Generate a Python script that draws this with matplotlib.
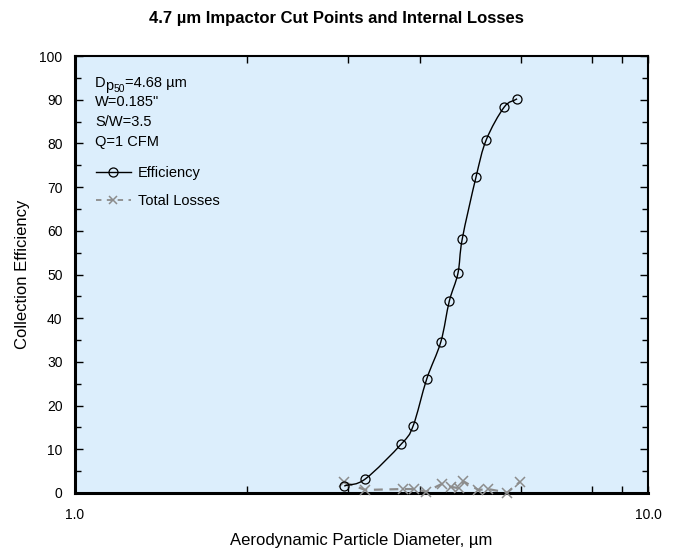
import numpy as np
import matplotlib
matplotlib.use("Agg")
import matplotlib.pyplot as plt
from matplotlib.path import Path
from matplotlib.patches import PathPatch
from matplotlib.lines import Line2D
from matplotlib.transforms import offset_copy

plt.rcParams['font.family'] = ['Liberation Sans', 'DejaVu Sans']

# collection efficiency (%) vs aerodynamic diameter (um)
eff_diam = [2.95, 3.21, 3.71, 3.89, 4.11, 4.35, 4.50, 4.66, 4.74, 5.01, 5.22, 5.61, 5.91]
eff_vals = [1.6, 3.2, 11.2, 15.3, 26.1, 34.6, 43.9, 50.3, 58.1, 72.3, 80.8, 88.3, 90.2]

# total internal losses (%)
loss_diam = [2.95, 3.21, 3.73, 3.90, 4.10, 4.37, 4.53, 4.68, 4.76, 5.06, 5.26, 5.68, 5.97]
loss_vals = [2.5, 0.7, 0.9, 0.9, 0.3, 2.1, 1.4, 1.1, 2.7, 0.7, 0.9, 0.1, 2.5]

info_lines = ['W=0.185"', 'S/W=3.5', 'Q=1 CFM']
dp50_text = '=4.68 µm'

x_minor = [2, 3, 4, 6, 8, 9]
x_major = [1, 10]
x_major_labels = ['1.0', '10.0']


def smooth_path(xs, ys, sx=573.0, sy=4.37):
    """Catmull-Rom curve through the points, as cubic bezier segments (log-x)."""
    u = np.log10(np.asarray(xs)) * sx
    v = np.asarray(ys) * sy
    p = np.column_stack([u, v])
    n = len(p)
    tang = np.zeros_like(p)
    for i in range(n):
        if i == 0:
            tang[i] = p[1] - p[0]
        elif i == n - 1:
            tang[i] = p[-1] - p[-2]
        else:
            tang[i] = (p[i + 1] - p[i - 1]) / 2.0
    verts = [p[0]]
    codes = [Path.MOVETO]
    for i in range(n - 1):
        verts += [p[i] + tang[i] / 3.0, p[i + 1] - tang[i + 1] / 3.0, p[i + 1]]
        codes += [Path.CURVE4] * 3
    verts = np.array(verts)
    verts[:, 0] = 10 ** (verts[:, 0] / sx)
    verts[:, 1] = verts[:, 1] / sy
    return Path(verts, codes)


fig = plt.figure(figsize=(6.73, 5.54), dpi=100)
ax = fig.add_axes([75 / 673, 61 / 554, 573 / 673, 437 / 554])
ax.set_facecolor('#dceefc')
ax.set_xscale('log')
ax.set_xlim(1, 10)
ax.set_ylim(0, 100)

gray = '#8c8c8c'

# losses
ax.plot(loss_diam, loss_vals, linestyle=(0, (4, 3)), color=gray, lw=1.6,
        marker='x', ms=6.5, mew=1.1, mec=gray, zorder=3, clip_on=False)

# efficiency curve
patch = PathPatch(smooth_path(eff_diam, eff_vals), facecolor='none',
                  edgecolor='black', lw=1.0, transform=ax.transData, zorder=4)
ax.add_patch(patch)
ax.plot(eff_diam, eff_vals, linestyle='none', marker='o', ms=6.5,
        mfc='none', mec='black', mew=0.9, zorder=5)

# ticks
ax.set_xticks(x_major)
ax.set_xticklabels(x_major_labels)
ax.set_xticks(x_minor, minor=True)
ax.xaxis.set_minor_formatter(matplotlib.ticker.NullFormatter())
ax.set_yticks(np.arange(0, 101, 10))
ax.set_yticks(np.arange(5, 100, 10), minor=True)
ax.tick_params(which='both', direction='in', top=True, right=True,
               labelsize=10, color='black')
ax.tick_params(axis='y', which='major', length=6, width=1, pad=9)
ax.tick_params(axis='y', which='minor', length=4, width=1)
ax.tick_params(axis='x', which='both', length=5, width=1, pad=11)

for side in ['left', 'bottom']:
    ax.spines[side].set_linewidth(2.2)
for side in ['top', 'right']:
    ax.spines[side].set_linewidth(1.5)

ax.set_xlabel('Aerodynamic Particle Diameter, µm', fontsize=12, labelpad=8)
ax.set_ylabel('Collection Efficiency', fontsize=12, labelpad=7)
fig.suptitle('4.7 µm Impactor Cut Points and Internal Losses', fontsize=12,
             fontweight='bold', y=1 - 19 / 554, va='center')

# info text: D with nested subscript p50, built from pieces
fs = 10.5
fig.canvas.draw()
renderer = fig.canvas.get_renderer()
x0, yb0 = 0.035, 0.929
t = ax.text(x0, yb0, 'D', transform=ax.transAxes, fontsize=fs, va='baseline')
dx = t.get_window_extent(renderer).width - 0.5
t = ax.text(x0, yb0, 'p', fontsize=fs, va='baseline',
            transform=offset_copy(ax.transAxes, fig, x=dx, y=-3, units='dots'))
dx += t.get_window_extent(renderer).width
t = ax.text(x0, yb0, '50', fontsize=7.5, va='baseline',
            transform=offset_copy(ax.transAxes, fig, x=dx, y=-5, units='dots'))
dx += t.get_window_extent(renderer).width + 0.5
ax.text(x0, yb0, dp50_text, fontsize=fs, va='baseline',
        transform=offset_copy(ax.transAxes, fig, x=dx, y=0, units='dots'))

for txt, yb in zip(info_lines, [0.886, 0.840, 0.794]):
    ax.text(x0, yb, txt, transform=ax.transAxes, fontsize=fs, va='baseline')

handles = [
    Line2D([], [], color='black', lw=1.0, marker='o', ms=6.5, mfc='none', mew=0.9),
    Line2D([], [], color=gray, lw=1.3, linestyle=(0, (3, 3)), marker='x', ms=6, mew=1.1),
]
ax.legend(handles, ['Efficiency', 'Total Losses'], loc='center left',
          bbox_to_anchor=(0.036, 0.700), frameon=False, borderpad=0,
          borderaxespad=0, handlelength=2.4, handletextpad=0.5,
          labelspacing=0.95, fontsize=fs, markerfirst=True)

fig.savefig('out.png', dpi=100)
